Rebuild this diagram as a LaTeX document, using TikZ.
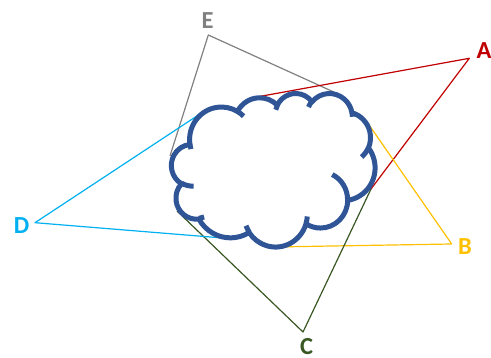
\documentclass[tikz,border=0pt]{standalone}
\usepackage{fontspec}
\setmainfont{Carlito}
\definecolor{cloudblue}{RGB}{47,85,151}
\definecolor{colA}{RGB}{192,0,0}
\definecolor{colB}{RGB}{255,192,0}
\definecolor{colC}{RGB}{56,87,35}
\definecolor{colD}{RGB}{0,176,240}
\definecolor{colE}{RGB}{128,128,128}
% elliptical arc given with "visual" start angle and sweep (DrawingML arcTo)
\newcommand\cloudarc[4]{arc[x radius=#1, y radius=#2,
  start angle={atan2((#1)*sin(#3),(#2)*cos(#3))},
  delta angle={mod(atan2((#1)*sin((#3)+(#4)),(#2)*cos((#3)+(#4)))-atan2((#1)*sin(#3),(#2)*cos(#3))+720,360)}]}
\tikzset{
  lbl/.style={font=\fontsize{24.5}{29}\selectfont\bfseries, inner sep=0pt, anchor=center},
  edgeline/.style={line width=1.2pt, line join=round},
  cloudline/.style={draw=cloudblue, line width=5pt, line join=round}
}
\begin{document}
\begin{tikzpicture}[x=1pt,y=-1pt]
\useasboundingbox (0,0) rectangle (491,358);
% vertices
\coordinate (E) at (208.3,35);
\coordinate (A) at (469.3,58.3);
\coordinate (B) at (451.7,244);
\coordinate (C) at (303,332);
\coordinate (D) at (35,222.7);
% ends (hidden by the cloud)
\coordinate (E1) at (337.5,93.7);
\coordinate (E2) at (170,156);
\coordinate (A1) at (254,97.5);
\coordinate (A2) at (371,189);
\coordinate (B1) at (367,122);
\coordinate (B2) at (273,247);
\coordinate (C1) at (371,189);
\coordinate (C2) at (177,211);
\coordinate (D1) at (206,110);
\coordinate (D2) at (235,239);
% labels
\node[lbl, text=colE] (labE) at (207.7,20.8) {E};
\node[lbl, text=colA] (labA) at (484,51) {A};
\node[lbl, text=colB] (labB) at (465,247) {B};
\node[lbl, text=colC] (labC) at (306.7,346.8) {C};
\node[lbl, text=colD] (labD) at (21.7,225.7) {D};
% connectors
\draw[edgeline, colE] (E1) -- (E) -- (E2);
\draw[edgeline, colA] (A1) -- (A) -- (A2);
\draw[edgeline, colB] (B1) -- (B) -- (B2);
\draw[edgeline, colC] (C1) -- (C) -- (C2);
\draw[edgeline, colD] (D1) -- (D) -- (D2);
% cloud
\begin{scope}[shift={(171.5pt,-93pt)}, x={(0.471065pt,0pt)}, y={(0pt,-0.355324pt)}]
\draw[cloudline, fill=white] (39.00,143.70)
  \cloudarc{67.53}{91.90}{-190.48748}{123.78053}
  \cloudarc{53.33}{72.67}{-144.10238}{89.94523}
  \cloudarc{43.65}{59.45}{-145.80792}{99.72302}
  \cloudarc{48.57}{65.95}{-130.98607}{117.24173}
  \cloudarc{53.33}{72.73}{-78.70888}{109.02692}
  \cloudarc{67.75}{92.20}{-46.26725}{130.26900}
  \cloudarc{57.85}{78.67}{0.62502}{114.03333}
  \cloudarc{67.52}{92.15}{22.45160}{115.17255}
  \cloudarc{77.20}{105.43}{66.24263}{75.71102}
  \cloudarc{43.60}{59.18}{-274.94208}{146.73557}
  \cloudarc{43.45}{59.45}{-246.82850}{152.51885}
  -- cycle;
\draw[cloudline]
  (46.93,261.77) \cloudarc{43.45}{59.45}{86.7420}{26.4295}
  (69.28,348.99) \cloudarc{43.60}{59.18}{73.6105}{11.4475}
  (164.78,390.90) \cloudarc{67.52}{92.15}{137.6242}{14.0811}
  (288.27,347.51) \cloudarc{67.52}{92.15}{6.4533}{15.9984}
  (341.29,229.54) \cloudarc{57.85}{78.67}{-70.2924}{70.9174}
  (417.98,153.54) \cloudarc{53.33}{72.73}{30.3180}{27.7515}
  (383.24,54.26) \cloudarc{48.57}{65.95}{-13.7443}{14.8589}
  (290.78,39.52) \cloudarc{48.57}{65.95}{-149.1815}{18.1954}
  (221.41,47.20) \cloudarc{43.65}{59.45}{-163.4943}{17.6864}
  (140.00,51.92) \cloudarc{67.53}{91.90}{-66.7070}{12.3194}
  (41.27,157.89) \cloudarc{67.53}{91.90}{157.6544}{11.8582};
\end{scope}
\end{tikzpicture}
\end{document}
